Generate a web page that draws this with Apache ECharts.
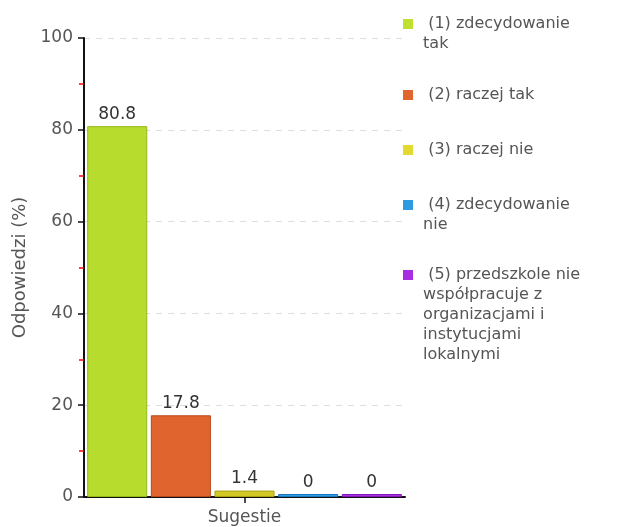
<!DOCTYPE html>
<html>
<head>
<meta charset="utf-8">
<script src="https://cdn.jsdelivr.net/npm/echarts@6/dist/echarts.min.js"></script>
<style>html,body{margin:0;padding:0;background:#fff}#c{width:628px;height:527px}</style>
</head>
<body>
<div id="c"></div>
<script>
const categories = ['Sugestie'];
const seriesNames = [
  '(1) zdecydowanie tak',
  '(2) raczej tak',
  '(3) raczej nie',
  '(4) zdecydowanie nie',
  '(5) przedszkole nie współpracuje z organizacjami i instytucjami lokalnymi'
];
const legendLines = [
  ['(1) zdecydowanie', 'tak'],
  ['(2) raczej tak'],
  ['(3) raczej nie'],
  ['(4) zdecydowanie', 'nie'],
  ['(5) przedszkole nie', 'współpracuje z', 'organizacjami i', 'instytucjami', 'lokalnymi']
];
const seriesValues = [80.8, 17.8, 1.4, 0, 0];
const yTicks = [0, 20, 40, 60, 80, 100];

const colors = ['#b8dc2e', '#e0642e', '#d2c826', '#2e9ae2', '#a82ee2'];
const borders = ['#95b81a', '#b84818', '#aaa010', '#1a78bb', '#8418bb'];
const legendIcon = ['#c0e030', '#e0642e', '#e2da30', '#2e9ae2', '#a82ee2'];
const FONT = 'DejaVu Sans';
const LH = 20;
const firstLineCenters = [24, 95, 150, 205, 275];

const legends = seriesNames.map((name, i) => {
  const lines = legendLines[i];
  const n = lines.length;
  const shown = lines.map((l, k) => (k === 0 ? '  ' : ' ') + l);
  // pad with empty lines above so the first line sits level with the icon
  const text = new Array(n - 1).fill('').concat(shown).join('\n');
  return {
    data: [{ name: name, itemStyle: { color: legendIcon[i], borderWidth: 0 } }],
    orient: 'vertical',
    left: 403,
    top: firstLineCenters[i] - (2 * n - 1) * LH / 2,
    padding: 0,
    icon: 'rect',
    itemWidth: 10,
    itemHeight: 10,
    selectedMode: false,
    formatter: () => text,
    textStyle: { fontFamily: FONT, fontSize: 16, color: '#555', lineHeight: LH }
  };
});

const chart = echarts.init(document.getElementById('c'));
chart.setOption({
  animation: false,
  backgroundColor: '#fff',
  legend: legends,
  grid: { left: 84, right: 223, top: 38, bottom: 30 },
  xAxis: [{
    type: 'category',
    data: categories,
    axisLine: { lineStyle: { color: '#111', width: 2 } },
    axisTick: { show: false },
    axisLabel: { fontFamily: FONT, fontSize: 17, color: '#555', margin: 12 }
  }, {
    type: 'value',
    position: 'bottom',
    min: 0, max: 2, interval: 1,
    axisLine: { show: true, onZero: false, lineStyle: { color: 'rgba(0,0,0,0)' } },
    splitLine: { show: false },
    axisLabel: { show: false },
    axisTick: { show: true, customValues: [1], length: 6, lineStyle: { color: '#111', width: 1.5 } }
  }],
  yAxis: {
    type: 'value',
    min: yTicks[0],
    max: yTicks[yTicks.length - 1],
    interval: 20,
    name: 'Odpowiedzi (%)',
    nameLocation: 'middle',
    nameGap: 50,
    nameTextStyle: { fontFamily: FONT, fontSize: 18, color: '#555' },
    axisLine: { show: true, lineStyle: { color: '#111', width: 2 } },
    axisTick: { show: true, length: 6, lineStyle: { color: '#111', width: 1.5 } },
    minorTick: { show: true, splitNumber: 2, length: 5, lineStyle: { color: '#ff0000', width: 1.5 } },
    axisLabel: { fontFamily: FONT, fontSize: 17, color: '#555', margin: 11 },
    splitLine: { show: true, lineStyle: { color: '#ddd', type: [6, 6] } }
  },
  series: seriesNames.map((name, i) => ({
    name: name,
    type: 'bar',
    xAxisIndex: 0,
    data: [seriesValues[i]],
    barGap: '6%',
    barCategoryGap: '2%',
    barMinHeight: 3,
    itemStyle: { color: colors[i], borderColor: borders[i], borderWidth: 1 },
    label: { show: true, position: 'top', fontFamily: FONT, fontSize: 17, color: '#333', distance: 3 }
  }))
});
</script>
</body>
</html>
